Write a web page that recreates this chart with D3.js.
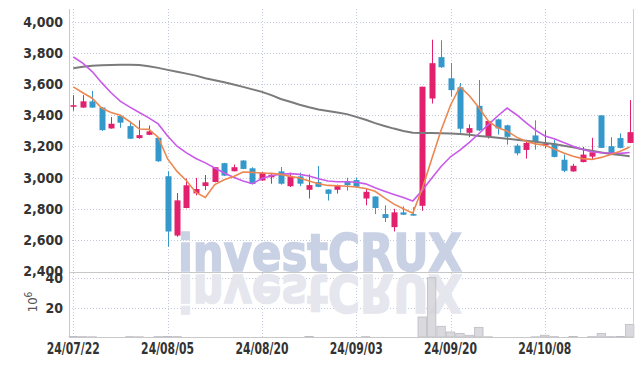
<!DOCTYPE html>
<html>
<head>
<meta charset="utf-8">
<script src="https://cdn.jsdelivr.net/npm/d3@7/dist/d3.min.js"></script>
<style>
body { margin: 0; background: #fff; }
svg text { font-family: 'Liberation Sans Narrow', 'DejaVu Sans Condensed', 'Roboto', sans-serif; }
</style>
</head>
<body>
<script>
//trading days shown on the chart (yy/mm/dd)
var dates = ["24/07/22","24/07/23","24/07/24","24/07/25","24/07/26","24/07/29","24/07/30","24/07/31",
    "24/08/01","24/08/02","24/08/05","24/08/06","24/08/07","24/08/08","24/08/09","24/08/12","24/08/13",
    "24/08/14","24/08/16","24/08/19","24/08/20","24/08/21","24/08/22","24/08/23","24/08/26","24/08/27",
    "24/08/28","24/08/29","24/08/30","24/09/02","24/09/03","24/09/04","24/09/05","24/09/06","24/09/09",
    "24/09/10","24/09/11","24/09/12","24/09/13","24/09/19","24/09/20","24/09/23","24/09/24","24/09/25",
    "24/09/26","24/09/27","24/09/30","24/10/02","24/10/04","24/10/07","24/10/08","24/10/10","24/10/11",
    "24/10/14","24/10/15","24/10/16","24/10/17","24/10/18","24/10/21","24/10/22"];

var opens  = [3455,3450,3490,3450,3316,3396,3331,3254,3275,3256,3009,2628,2805,2899,2946,2972,3093,3041,3110,3060,
              2982,3002,3040,2945,3008,2922,2971,2924,2922,2978,2984,2866,2879,2766,2682,2777,2766,2819,3508,3774,
              3638,3580,3288,3461,3266,3374,3336,3206,3178,3271,3208,3217,3115,3040,3100,3135,3400,3202,3254,3223];
var highs  = [3530,3530,3557,3452,3389,3398,3359,3368,3335,3260,3041,2901,2994,2998,3017,3068,3095,3084,3112,3067,
              3035,3022,3068,3032,3032,3021,3075,2926,2955,2999,2999,2930,2880,2822,2800,2815,2810,3584,3886,3882,
              3737,3608,3342,3627,3366,3378,3340,3217,3238,3368,3303,3245,3148,3089,3197,3256,3400,3260,3284,3498];
var lows   = [3430,3448,3448,3300,3314,3320,3248,3250,3273,3101,2557,2620,2803,2886,2920,2970,3010,3040,3054,2957,
              2980,2961,2955,2940,2945,2866,2938,2853,2898,2917,2935,2822,2766,2715,2654,2760,2755,2787,3476,3705,
              3521,3288,3260,3299,3251,3277,3212,3143,3122,3180,3187,3130,3035,3038,3098,3115,3190,3145,3188,3222];
var closes = [3465,3490,3450,3305,3346,3353,3250,3273,3297,3105,2654,2854,2951,2927,2970,3067,3013,3067,3056,2959,
              3032,3019,2961,3008,2961,2952,2941,2896,2952,2952,2941,2909,2805,2741,2777,2762,2756,3584,3735,3709,
              3562,3314,3318,3303,3364,3316,3262,3156,3223,3230,3217,3133,3044,3076,3148,3163,3191,3148,3191,3292];

//volume, millions of shares
var volumes = [1.0,0.9,0.8,0.5,0.4,0.3,0.9,0.8,0.4,0.9,1.0,0.9,0.4,0.3,0.3,0.4,0.3,0.2,0.3,0.3,
               0.2,0.2,0.3,0.2,0.2,1.0,0.3,0.2,0.2,0.3,0.3,0.9,0.5,0.3,0.4,0.3,0.4,14,40.2,7.8,
               4.0,3.1,1.8,7.1,0.8,0.6,0.6,0.6,0.6,0.8,1.8,0.9,0.5,1.0,0.4,0.9,3.0,0.9,1.0,9.1];

//moving average lines
var ma5  = [3583,3545,3510,3447,3419,3400,3359,3312,3310,3260,3120,3040,2980,2905,2872,2955,2986,3008,3036,3034,
            3030,3028,3021,3008,2998,2978,2961,2950,2948,2945,2940,2930,2912,2870,2830,2800,2772,2928,3118,3305,
            3465,3584,3526,3450,3364,3320,3299,3260,3234,3217,3208,3184,3158,3137,3122,3117,3130,3148,3169,3197];
var ma10 = [3775,3736,3681,3610,3545,3490,3453,3418,3384,3345,3267,3202,3159,3123,3095,3062,3030,3002,2978,2961,
            2995,3012,3022,3026,3021,3010,2993,2978,2974,2974,2970,2960,2935,2913,2892,2872,2850,2918,2996,3072,
            3134,3176,3226,3282,3340,3396,3447,3404,3353,3305,3268,3250,3225,3202,3181,3166,3160,3158,3156,3161];
var ma60 = [3702,3712,3718,3722,3724,3725,3725,3724,3716,3705,3692,3680,3668,3655,3638,3625,3612,3598,3583,3567,
            3551,3530,3505,3487,3468,3452,3438,3428,3418,3408,3390,3372,3350,3332,3315,3300,3288,3287,3286,3285,
            3284,3280,3275,3268,3262,3256,3250,3244,3237,3230,3223,3216,3205,3195,3182,3172,3162,3152,3145,3138];

var priceTicks = [2400,2600,2800,3000,3200,3400,3600,3800,4000];
var volTicks = [20,40];
var dateTicks = ["24/07/22","24/08/05","24/08/20","24/09/03","24/09/20","24/10/08"];

var width = 643, height = 366;
var left = 69, right = 633,
    priceTop = 9, priceBottom = 272,
    volBottom = 337;

var svg = d3.select("body").append("svg")
    .attr("width", width)
    .attr("height", height);

//scales
var x = d3.scaleBand()
    .domain(dates)
    .range([68.6, 68.6 + dates.length * 9.43]);

var y = d3.scaleLinear()
    .domain([2394, 4083])
    .range([priceBottom, priceTop]);

var yVol = d3.scaleLinear()
    .domain([0, 44])
    .range([338, priceBottom]);

function cx(d){ return x(d) + x.bandwidth() / 2; }

var gridColor = "#c4cadc";

//gridlines
svg.append("g").selectAll("line")
    .data(priceTicks.filter(function(t){ return t > 2400; }))
    .enter().append("line")
    .attr("x1", left).attr("x2", right)
    .attr("y1", function(d){ return Math.round(y(d)) + 0.5; })
    .attr("y2", function(d){ return Math.round(y(d)) + 0.5; })
    .attr("stroke", gridColor)
    .attr("stroke-dasharray", "1,2");

svg.append("g").selectAll("line")
    .data(volTicks)
    .enter().append("line")
    .attr("x1", left).attr("x2", right)
    .attr("y1", function(d){ return Math.round(yVol(d)) + 0.5; })
    .attr("y2", function(d){ return Math.round(yVol(d)) + 0.5; })
    .attr("stroke", gridColor)
    .attr("stroke-dasharray", "1,2");

svg.append("g").selectAll("line")
    .data(dateTicks)
    .enter().append("line")
    .attr("x1", function(d){ return Math.round(cx(d)) + 0.5; })
    .attr("x2", function(d){ return Math.round(cx(d)) + 0.5; })
    .attr("y1", priceTop).attr("y2", volBottom)
    .attr("stroke", gridColor)
    .attr("stroke-dasharray", "1,2");

//watermark and its reflection
var wm = svg.append("g")
    .style("font-family", "'DejaVu Sans', sans-serif")
    .style("font-weight", "bold")
    .style("font-size", "52px");
wm.append("text")
    .attr("x", 178).attr("y", 271)
    .attr("textLength", 284)
    .attr("lengthAdjust", "spacingAndGlyphs")
    .attr("fill", "#c9d1e5")
    .attr("stroke", "#c9d1e5")
    .attr("stroke-width", 1.5)
    .text("investCRUX");
wm.append("text")
    .attr("x", 178).attr("y", 271)
    .attr("transform", "translate(0,546) scale(1,-1)")
    .attr("textLength", 284)
    .attr("lengthAdjust", "spacingAndGlyphs")
    .attr("fill", "#e5e6ee")
    .attr("stroke", "#e5e6ee")
    .attr("stroke-width", 1.5)
    .text("investCRUX");

//volume bars
svg.append("g").selectAll("rect")
    .data(dates)
    .enter().append("rect")
    .attr("x", function(d){ return x(d) + 0.5; })
    .attr("width", x.bandwidth() - 1)
    .attr("y", function(d, i){ return yVol(volumes[i]); })
    .attr("height", function(d, i){ return Math.max(0, volBottom - yVol(volumes[i])); })
    .attr("fill", "#d2d2d8")
    .attr("fill-opacity", 0.85)
    .attr("stroke", "#bcbcc4")
    .attr("stroke-width", 0.8);

//frame lines
svg.append("line").attr("x1", left + 0.5).attr("x2", left + 0.5)
    .attr("y1", priceTop).attr("y2", volBottom).attr("stroke", "#c8c8d0");
svg.append("line").attr("x1", right + 0.5).attr("x2", right + 0.5)
    .attr("y1", priceTop).attr("y2", volBottom).attr("stroke", "#d0d0d6");
svg.append("line").attr("x1", left).attr("x2", right + 1)
    .attr("y1", priceBottom + 0.5).attr("y2", priceBottom + 0.5).attr("stroke", "#c8c8c8");
svg.append("line").attr("x1", left).attr("x2", right + 1)
    .attr("y1", volBottom + 0.5).attr("y2", volBottom + 0.5).attr("stroke", "#c8c8c8");

//candles
var upColor = "#e2206e", downColor = "#3598cb";
function col(i){ return closes[i] >= opens[i] ? upColor : downColor; }

var candles = svg.append("g").selectAll("g")
    .data(dates)
    .enter().append("g");

candles.append("line")
    .attr("x1", function(d){ return Math.round(cx(d)) + 0.5; })
    .attr("x2", function(d){ return Math.round(cx(d)) + 0.5; })
    .attr("y1", function(d, i){ return y(highs[i]); })
    .attr("y2", function(d, i){ return y(lows[i]); })
    .attr("stroke", function(d, i){ return col(i); })
    .attr("stroke-width", 1);

candles.append("rect")
    .attr("x", function(d){ return Math.round(cx(d)) - 2.5; })
    .attr("width", 6)
    .attr("y", function(d, i){ return y(Math.max(opens[i], closes[i])); })
    .attr("height", function(d, i){ return Math.max(1.5, Math.abs(y(opens[i]) - y(closes[i]))); })
    .attr("fill", function(d, i){ return col(i); });

//moving averages
function maLine(arr){
    return d3.line()
        .x(function(d){ return cx(d); })
        .y(function(d, i){ return y(arr[i]); })(dates);
}
svg.append("path").attr("d", maLine(ma60))
    .attr("fill", "none").attr("stroke", "#7b7b7b").attr("stroke-width", 2);
svg.append("path").attr("d", maLine(ma10))
    .attr("fill", "none").attr("stroke", "#c95ae9").attr("stroke-width", 1.6);
svg.append("path").attr("d", maLine(ma5))
    .attr("fill", "none").attr("stroke", "#ec8750").attr("stroke-width", 1.6);

//axes
function styleAxis(g){
    g.select(".domain").remove();
    g.selectAll("text")
        .attr("fill", "#333")
        .style("font-weight", "bold");
}

svg.append("g")
    .attr("transform", "translate(" + left + ",0)")
    .call(d3.axisLeft(y).tickValues(priceTicks).tickFormat(d3.format(",")).tickSize(0).tickPadding(6))
    .call(styleAxis)
    .selectAll("text").style("font-size", "14px");

svg.append("g")
    .attr("transform", "translate(" + left + ",0)")
    .call(d3.axisLeft(yVol).tickValues(volTicks).tickSize(0).tickPadding(6))
    .call(styleAxis)
    .selectAll("text").style("font-size", "14px");

svg.append("g")
    .attr("transform", "translate(0," + volBottom + ")")
    .call(d3.axisBottom(x).tickValues(dateTicks).tickSize(0).tickPadding(6))
    .call(styleAxis)
    .selectAll("text")
    .style("font-size", "15px")
    .attr("textLength", 53)
    .attr("lengthAdjust", "spacingAndGlyphs");

//volume unit label
var unit = svg.append("text")
    .attr("transform", "translate(37,302) rotate(-90)")
    .attr("text-anchor", "middle")
    .attr("fill", "#555")
    .style("font-size", "13px");
unit.append("tspan").text("10");
unit.append("tspan").attr("baseline-shift", "super").style("font-size", "10px").text("6");
</script>
</body>
</html>
